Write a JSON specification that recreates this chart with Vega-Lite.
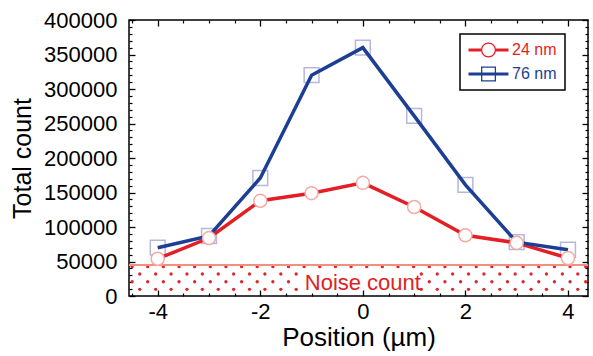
{
  "$schema": "https://vega.github.io/schema/vega-lite/v6.json",
  "width": 459,
  "height": 276,
  "autosize": {"type": "none"},
  "padding": {"left": 129, "top": 20, "right": 5, "bottom": 60},
  "config": {
    "font": "Liberation Sans",
    "view": {"stroke": "black", "strokeWidth": 1.5},
    "axis": {"labelColor": "black", "titleColor": "black", "titleFontWeight": "normal", "tickColor": "black", "domain": false, "grid": false}
  },
  "datasets": {
    "series": [
      {"pos": -4, "series": "24 nm", "count": 54000},
      {"pos": -3, "series": "24 nm", "count": 84000},
      {"pos": -2, "series": "24 nm", "count": 138000},
      {"pos": -1, "series": "24 nm", "count": 149000},
      {"pos": 0, "series": "24 nm", "count": 164000},
      {"pos": 1, "series": "24 nm", "count": 129000},
      {"pos": 2, "series": "24 nm", "count": 88000},
      {"pos": 3, "series": "24 nm", "count": 77000},
      {"pos": 4, "series": "24 nm", "count": 55000},
      {"pos": -4, "series": "76 nm", "count": 70000},
      {"pos": -3, "series": "76 nm", "count": 87000},
      {"pos": -2, "series": "76 nm", "count": 171000},
      {"pos": -1, "series": "76 nm", "count": 320000},
      {"pos": 0, "series": "76 nm", "count": 360000},
      {"pos": 1, "series": "76 nm", "count": 261000},
      {"pos": 2, "series": "76 nm", "count": 161000},
      {"pos": 3, "series": "76 nm", "count": 78000},
      {"pos": 4, "series": "76 nm", "count": 67000}
    ],
    "dots": [
      {"row": 1, "y": 42500, "xs": [-4.5,-4.195,-3.89,-3.585,-3.28,-2.975,-2.67,-2.365,-2.06,-1.755,-1.45,-1.145,-0.84,-0.535,-0.23,0.075,0.38,0.685,0.99,1.295,1.6,1.905,2.21,2.515,2.82,3.125,3.43,3.735,4.04,4.345]},
      {"row": 2, "y": 31900, "xs": [-4.35,-4.04,-3.74,-3.43,-3.13,-2.82,-2.52,-2.21,-1.91,-1.6,-1.3,1.14,1.45,1.75,2.06,2.36,2.67,2.97,3.28,3.58,3.89,4.19]},
      {"row": 3, "y": 20700, "xs": [-4.5,-4.195,-3.89,-3.585,-3.28,-2.975,-2.67,-2.365,-2.06,-1.755,-1.45,1.295,1.6,1.905,2.21,2.515,2.82,3.125,3.43,3.735,4.04,4.345]},
      {"row": 4, "y": 9700, "xs": [-4.35,-4.04,-3.74,-3.43,-3.13,-2.82,-2.52,-2.21,-1.91,-1.6,-1.3,1.14,1.45,1.75,2.06,2.36,2.67,2.97,3.28,3.58,3.89,4.19]}
    ]
  },
  "resolve": {"axis": {"x": "independent", "y": "independent"}},
  "layer": [
    {
      "data": {"name": "dots"},
      "transform": [{"flatten": ["xs"], "as": ["x"]}],
      "mark": {"type": "point", "filled": true, "color": "#e0262b", "size": 11, "opacity": 1},
      "encoding": {
        "x": {"field": "x", "type": "quantitative", "scale": {"domain": [-4.56, 4.39], "nice": false, "zero": false},
          "axis": {"orient": "top", "values": [-4, -2, 0, 2, 4], "labels": false, "ticks": true, "tickSize": -6, "tickWidth": 1.3, "title": null}},
        "y": {"field": "y", "type": "quantitative", "scale": {"domain": [0, 400000], "nice": false},
          "axis": {"orient": "right", "values": [0, 50000, 100000, 150000, 200000, 250000, 300000, 350000, 400000], "labels": false, "ticks": true, "tickSize": -6, "tickWidth": 1.3, "title": null}}
      }
    },
    {
      "data": {"name": "series"},
      "mark": {"type": "rule", "color": "#f2917f", "strokeWidth": 1.5},
      "encoding": {"y": {"datum": 45000, "type": "quantitative", "axis": null}}
    },
    {
      "data": {"name": "series"},
      "transform": [{"filter": "datum.pos === 0 && datum.series === '24 nm'"}],
      "mark": {"type": "text", "text": "Noise count", "color": "#e0231c", "fontSize": 22, "baseline": "middle", "align": "center"},
      "encoding": {
        "x": {"datum": 0, "type": "quantitative",
          "axis": {"orient": "top", "values": [-4.5, -3.5, -3, -2.5, -1.5, -1, -0.5, 0.5, 1, 1.5, 2.5, 3, 3.5], "labels": false, "ticks": true, "tickSize": -3, "tickWidth": 1.2, "title": null}},
        "y": {"datum": 19000, "type": "quantitative",
          "axis": {"orient": "right", "values": [10000, 20000, 30000, 40000, 60000, 70000, 80000, 90000, 110000, 120000, 130000, 140000, 160000, 170000, 180000, 190000, 210000, 220000, 230000, 240000, 260000, 270000, 280000, 290000, 310000, 320000, 330000, 340000, 360000, 370000, 380000, 390000], "labels": false, "ticks": true, "tickSize": -3, "tickWidth": 1.2, "title": null}}
      }
    },
    {
      "data": {"name": "series"},
      "transform": [{"filter": "datum.series === '76 nm'"}],
      "mark": {"type": "point", "shape": "square", "filled": false, "stroke": "#b3b8de", "strokeWidth": 1.5, "size": 220, "opacity": 1},
      "encoding": {
        "x": {"field": "pos", "type": "quantitative",
          "axis": {"orient": "bottom", "values": [-4, -2, 0, 2, 4], "labels": false, "ticks": true, "tickSize": -6, "tickWidth": 1.3, "title": null}},
        "y": {"field": "count", "type": "quantitative",
          "axis": {"orient": "left", "values": [0, 50000, 100000, 150000, 200000, 250000, 300000, 350000, 400000], "labels": false, "ticks": true, "tickSize": -6, "tickWidth": 1.3, "title": null}}
      }
    },
    {
      "data": {"name": "series"},
      "mark": {"type": "line", "strokeWidth": 3.5},
      "encoding": {
        "x": {"field": "pos", "type": "quantitative",
          "axis": {"orient": "bottom", "values": [-4, -2, 0, 2, 4], "ticks": false, "labelFontSize": 22, "labelPadding": 5, "labelExpr": "'' + datum.value", "labelFlush": false, "labelOverlap": false, "title": "Position (µm)", "titleFontSize": 26, "titlePadding": 2}},
        "y": {"field": "count", "type": "quantitative",
          "axis": {"orient": "left", "values": [0, 50000, 100000, 150000, 200000, 250000, 300000, 350000, 400000], "ticks": false, "labelFontSize": 22, "labelPadding": 12, "format": "d", "labelFlush": false, "labelOverlap": false, "title": "Total count", "titleFontSize": 25, "titlePadding": 8}},
        "color": {"field": "series", "type": "nominal",
          "scale": {"domain": ["24 nm", "76 nm"], "range": ["#e31e24", "#1c3f95"]},
          "legend": {
            "orient": "none", "legendX": 331, "legendY": 14, "title": null,
            "strokeColor": "black", "fillColor": "white", "padding": 8,
            "symbolSize": 225, "symbolStrokeWidth": 0, "labelFontSize": 16, "labelOffset": 28, "rowPadding": 8,
            "encode": {
              "legend": {"update": {"strokeWidth": {"value": 1.5}}},
              "symbols": {"update": {
                "shape": {"signal": "datum.value === '24 nm' ? 'M-1,-0.2H0.67V0.2H-1Z M2.67,-0.2H4.33V0.2H2.67Z M2.67,0A1,1,0,1,1,0.67,0A1,1,0,1,1,2.67,0Z M2.5,0A0.83,0.83,0,1,0,0.84,0A0.83,0.83,0,1,0,2.5,0Z' : 'M-1,-0.2H4.33V0.2H-1Z M0.67,-1H2.67V1H0.67Z M0.84,-0.83V0.83H2.5V-0.83Z'"},
                "fill": {"scale": "color", "field": "value"},
                "strokeWidth": {"value": 0},
                "opacity": {"value": 1}
              }},
              "labels": {"update": {"fill": {"scale": "color", "field": "value"}}}
            }
          }
        }
      }
    },
    {
      "data": {"name": "series"},
      "transform": [{"filter": "datum.series === '24 nm'"}],
      "mark": {"type": "point", "shape": "circle", "filled": true, "fill": "white", "stroke": "#f5aaa3", "strokeWidth": 1.5, "size": 170, "opacity": 1},
      "encoding": {
        "x": {"field": "pos", "type": "quantitative",
          "axis": {"orient": "bottom", "values": [-4.5, -3.5, -3, -2.5, -1.5, -1, -0.5, 0.5, 1, 1.5, 2.5, 3, 3.5], "labels": false, "ticks": true, "tickSize": -3, "tickWidth": 1.2, "title": null}},
        "y": {"field": "count", "type": "quantitative",
          "axis": {"orient": "left", "values": [10000, 20000, 30000, 40000, 60000, 70000, 80000, 90000, 110000, 120000, 130000, 140000, 160000, 170000, 180000, 190000, 210000, 220000, 230000, 240000, 260000, 270000, 280000, 290000, 310000, 320000, 330000, 340000, 360000, 370000, 380000, 390000], "labels": false, "ticks": true, "tickSize": -3, "tickWidth": 1.2, "title": null}}
      }
    }
  ]
}
